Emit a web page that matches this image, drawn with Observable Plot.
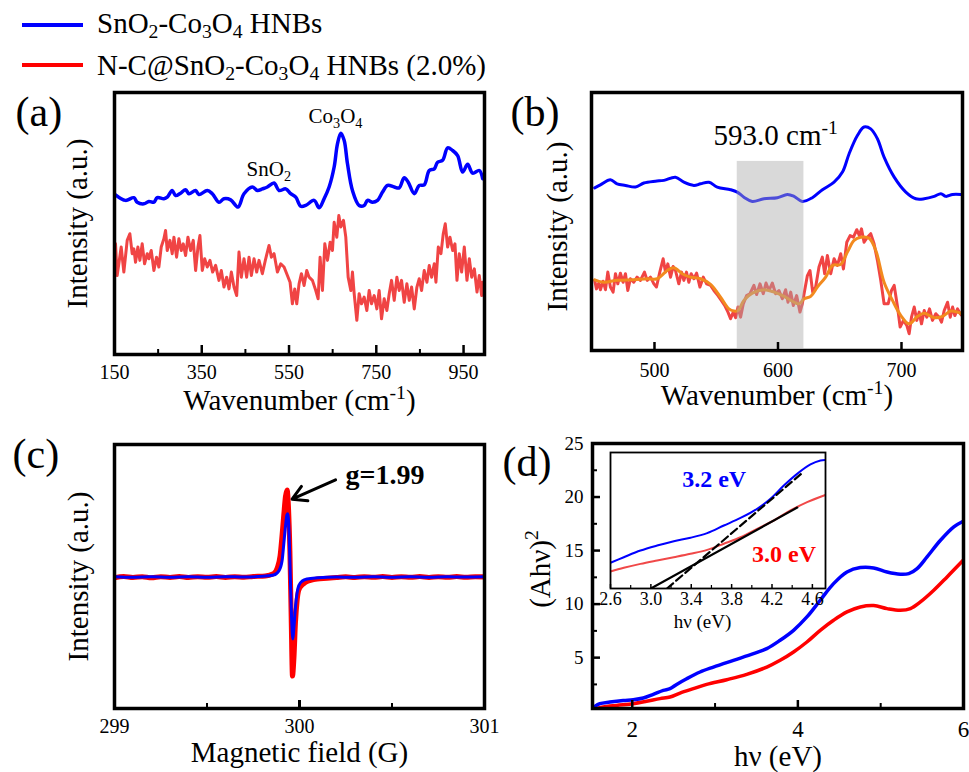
<!DOCTYPE html>
<html><head><meta charset="utf-8">
<script src="https://cdn.jsdelivr.net/npm/d3@7"></script>
<script src="https://cdn.jsdelivr.net/npm/@observablehq/plot@0.6"></script>
<style>
html,body{margin:0;padding:0;background:#fff;}
#root{position:relative;width:969px;height:772px;overflow:hidden;font-family:"Liberation Serif","Times New Roman",serif;}
.panel{position:absolute;}
.panel svg{display:block;}
.leg{position:absolute;font-size:29px;line-height:29px;white-space:nowrap;color:#000;}
.leg sub{font-size:0.68em;vertical-align:-0.25em;line-height:0;}
.sw{position:absolute;height:4px;width:61px;left:22px;}
</style></head><body><div id="root"></div>
<script>
// ---------------- DATA ----------------
const seriesNames = ["SnO_{2}-Co_{3}O_{4} HNBs", "N-C@SnO_{2}-Co_{3}O_{4} HNBs (2.0%)"];
const seriesColors = ["#0000ff", "#ff0000"];

// (a) Raman, wavenumber (cm-1) vs intensity (a.u.)
const ramanA_blue = [[152.3,60.9],[175.2,58.8],[194.4,59.8],[202.0,58.1],[217.3,57.5],[228.8,58.4],[240.3,58.1],[247.9,59.8],[263.2,59.4],[270.9,60.0],[282.3,62.5],[290.0,60.6],[301.5,61.5],[312.9,62.8],[320.6,61.3],[335.9,62.5],[343.5,61.0],[362.7,62.5],[374.1,61.3],[389.4,58.1],[400.9,59.4],[416.2,59.0],[433.1,56.3],[446.8,61.3],[465.9,63.8],[477.4,62.5],[488.9,63.1],[500.4,63.8],[515.7,65.3],[527.1,62.5],[542.4,63.1],[553.9,61.3],[565.4,60.0],[576.9,56.6],[588.3,56.9],[607.5,58.8],[619.0,56.0],[630.4,59.4],[641.9,63.8],[653.4,71.3],[661.0,80.0],[668.7,84.0],[676.3,81.3],[684.0,72.5],[695.4,62.5],[710.7,56.9],[722.2,56.9],[729.9,58.8],[741.3,58.1],[752.8,58.8],[764.3,61.9],[775.8,64.4],[791.1,63.8],[802.5,63.5],[814.0,67.3],[823.2,65.6],[837.0,61.3],[848.4,64.4],[859.9,64.6],[871.4,70.0],[882.9,70.6],[890.5,73.1],[902.0,73.8],[913.5,78.5],[925.0,77.5],[936.4,75.6],[947.9,69.4],[959.4,72.3],[970.8,69.0],[986.1,70.0],[993.8,66.9]];
const ramanA_red = [[152.3,42.5],[156.1,30.6],[165.3,41.3],[171.4,31.9],[179.1,43.8],[185.2,46.3],[190.5,38.8],[194.4,40.6],[198.2,35.6],[203.6,41.3],[208.1,36.3],[213.5,42.5],[218.9,35.0],[225.0,38.8],[228.8,36.9],[234.2,40.0],[240.3,32.5],[246.4,37.5],[251.7,33.8],[257.1,41.3],[263.2,44.4],[267.0,47.5],[270.9,40.0],[277.0,43.8],[282.3,38.8],[286.2,45.0],[292.3,37.5],[297.6,44.4],[303.0,40.0],[307.6,42.5],[312.9,38.1],[318.3,45.0],[324.4,40.0],[330.5,43.8],[335.9,32.5],[341.3,41.3],[345.8,45.6],[351.2,32.5],[356.6,36.9],[362.7,33.8],[368.8,36.3],[374.9,31.9],[381.8,34.4],[389.4,28.8],[394.8,32.5],[400.9,26.3],[407.0,30.0],[412.4,25.6],[417.8,31.9],[423.9,26.3],[430.0,23.1],[435.3,39.4],[440.7,30.0],[446.8,36.9],[452.9,30.0],[458.3,37.5],[463.7,30.6],[469.8,36.9],[475.9,31.9],[481.2,36.3],[488.9,31.3],[496.5,36.9],[504.2,41.9],[509.6,37.5],[515.7,38.8],[523.3,31.9],[531.0,35.0],[538.6,33.8],[546.3,30.6],[552.4,28.1],[557.7,20.0],[563.1,25.6],[567.7,20.0],[573.0,27.5],[578.4,31.3],[584.5,26.9],[590.6,32.5],[596.0,30.0],[603.6,28.8],[611.3,25.0],[616.7,21.9],[621.2,37.5],[626.6,25.0],[632.0,42.5],[638.1,36.3],[644.2,43.1],[649.5,40.0],[653.4,50.6],[659.5,45.0],[664.1,53.1],[668.7,48.8],[674.8,51.3],[680.1,45.0],[685.5,30.0],[691.6,25.0],[695.4,31.9],[699.3,23.8],[705.4,13.8],[710.7,23.8],[716.1,20.0],[722.2,22.5],[728.3,17.5],[733.7,25.0],[739.1,20.0],[745.2,23.1],[751.3,18.1],[756.6,25.0],[762.0,14.4],[768.1,21.9],[774.2,17.5],[779.6,23.8],[785.0,28.8],[791.1,21.3],[797.2,30.0],[802.5,25.0],[807.9,28.8],[814.0,20.6],[820.1,27.5],[825.5,21.3],[830.9,26.3],[837.0,18.1],[843.1,26.3],[848.4,29.4],[853.8,25.0],[859.9,32.5],[866.0,28.1],[871.4,34.4],[876.8,30.0],[882.9,35.0],[886.7,28.1],[892.1,41.3],[898.2,38.8],[903.5,46.3],[908.1,50.0],[913.5,41.3],[918.8,45.0],[925.0,40.0],[930.3,42.5],[934.9,28.8],[940.2,38.8],[945.6,31.9],[951.7,41.3],[957.8,28.8],[963.2,36.9],[968.6,30.0],[974.7,33.1],[980.8,24.4],[986.1,30.6],[991.5,23.1],[993.8,28.1]];
const ticksA_major = [150, 350, 550, 750, 950];
const ticksA_minor = [250, 450, 650, 850];
const annotA = [{x: 452.6, y: 68.1, t: "SnO_{2}"}, {x: 594.7, y: 88.0, t: "Co_{3}O_{4}"}];

// (b) Raman zoom
const ramanB_blue = [[451.6,63.5],[456.2,64.6],[464.3,66.5],[469.7,65.0],[476.5,64.4],[484.6,63.8],[491.4,65.3],[500.8,66.0],[507.6,66.3],[517.0,67.5],[523.8,65.6],[531.9,64.4],[537.3,65.0],[544.1,65.6],[550.8,63.8],[561.6,62.8],[567.0,61.9],[572.4,60.0],[579.2,58.4],[588.6,59.4],[599.5,59.8],[607.6,61.0],[613.0,60.3],[619.7,58.4],[627.8,59.8],[636.0,62.8],[645.4,65.6],[652.2,69.4],[657.6,76.3],[664.3,83.1],[669.7,86.3],[675.1,85.6],[680.5,81.9],[685.9,75.0],[694.1,67.5],[703.5,61.9],[711.6,59.4],[718.4,59.4],[726.5,60.3],[731.9,61.3],[735.9,60.3],[741.4,61.0],[748.1,61.0]];
const ramanB_red = [[451.6,28.8],[453.0,25.6],[454.9,27.8],[456.2,25.3],[458.4,28.5],[460.3,25.3],[462.2,31.9],[464.3,26.3],[466.5,24.4],[468.4,31.3],[470.3,27.5],[472.4,31.5],[474.6,28.1],[476.5,31.3],[478.4,25.0],[480.5,29.4],[483.2,28.1],[485.9,30.0],[488.6,28.8],[491.9,31.9],[494.1,28.8],[496.8,30.0],[499.5,27.5],[501.6,26.3],[504.3,31.9],[507.0,36.9],[508.9,31.9],[510.8,35.0],[513.0,30.0],[515.1,34.0],[517.0,32.5],[519.7,27.5],[521.9,31.9],[523.8,28.8],[525.9,31.9],[527.8,28.1],[529.7,31.3],[531.9,29.4],[534.1,31.5],[536.8,26.3],[539.5,30.0],[542.2,27.5],[545.4,26.9],[548.1,25.0],[551.4,23.1],[554.1,21.3],[556.8,19.4],[559.5,16.9],[561.6,14.4],[563.8,16.9],[565.7,14.8],[567.6,18.8],[569.7,15.0],[571.9,20.0],[574.6,23.1],[577.3,23.8],[580.5,26.9],[582.7,23.5],[585.4,27.5],[588.1,23.8],[590.3,27.8],[592.7,25.0],[595.4,27.8],[598.1,23.8],[600.8,25.0],[603.5,21.9],[606.2,25.3],[608.1,20.6],[610.3,24.4],[612.4,19.4],[615.1,23.1],[617.8,16.9],[619.7,20.0],[621.6,25.0],[623.8,30.6],[625.9,32.5],[628.1,24.4],[630.5,26.3],[633.2,33.8],[635.9,37.5],[637.8,31.3],[640.0,38.1],[642.7,31.3],[645.4,36.9],[648.1,34.4],[650.8,38.8],[653.0,33.1],[655.7,43.1],[658.4,45.6],[661.1,45.0],[663.8,47.8],[665.9,45.6],[667.6,48.1],[669.7,43.1],[672.4,45.0],[675.1,46.3],[677.8,42.5],[680.5,36.3],[683.2,28.8],[685.9,20.0],[689.2,20.0],[691.9,25.0],[694.1,26.9],[696.8,18.8],[698.9,11.3],[701.6,13.8],[704.3,11.9],[706.2,8.8],[708.1,15.0],[710.3,18.8],[712.4,13.8],[714.3,16.9],[716.2,12.5],[718.4,17.5],[720.5,15.0],[722.7,18.1],[725.1,13.8],[727.8,16.3],[730.5,15.0],[732.4,13.1],[734.6,17.5],[737.3,20.6],[739.5,15.0],[741.4,18.8],[743.2,15.6],[745.4,18.1],[747.6,16.3],[748.9,15.6]];
const ramanB_smooth = [[451.6,29.0],[458.9,28.1],[469.7,28.8],[483.2,29.0],[494.1,29.4],[502.2,29.4],[510.3,32.5],[515.7,33.5],[522.4,31.3],[529.2,30.0],[537.3,29.4],[545.4,27.3],[553.5,22.5],[560.3,18.1],[564.3,17.3],[567.6,17.5],[572.4,21.3],[579.2,24.0],[588.6,25.3],[596.8,24.4],[604.9,22.8],[611.6,21.0],[617.0,20.0],[621.1,21.9],[626.5,22.8],[631.9,26.3],[638.6,30.0],[644.1,34.4],[650.8,34.8],[656.2,39.4],[661.6,43.8],[667.0,45.0],[673.8,44.6],[679.2,40.0],[685.9,28.1],[692.7,21.3],[699.5,15.6],[706.2,12.5],[713.0,15.3],[718.4,16.5],[726.5,14.8],[733.2,15.3],[740.0,17.3],[748.9,16.3]];
const bandB = [{x1: 567, x2: 621, y1: 3.2, y2: 73.4}];
const annotB = [{x: 547.8, y: 79.4, t: "593.0 cm^{-1}"}];
const ticksB_major = [500, 600, 700];

// (c) EPR, magnetic field (G) vs intensity
const eprRed = [[299.00,-0.005],[299.05,0.004],[299.10,-0.004],[299.15,0.003],[299.20,-0.006],[299.25,0.002],[299.30,-0.003],[299.35,0.004],[299.40,-0.004],[299.45,0.003],[299.50,-0.002],[299.55,0.004],[299.60,-0.003],[299.65,0.002],[299.70,-0.002],[299.75,0.004],[299.80,0.006],[299.83,0.012],[299.86,0.025],[299.88,0.07],[299.895,0.16],[299.906,0.32],[299.915,0.47],[299.924,0.61],[299.933,0.66],[299.940,0.54],[299.948,0.20],[299.955,-0.30],[299.962,-0.75],[299.970,-0.61],[299.978,-0.35],[299.987,-0.18],[299.996,-0.10],[300.015,-0.06],[300.032,-0.04],[300.06,-0.025],[300.096,-0.015],[300.15,-0.010],[300.20,-0.004],[300.25,0.002],[300.30,-0.004],[300.35,0.003],[300.40,-0.002],[300.45,0.004],[300.50,-0.003],[300.55,0.003],[300.60,-0.002],[300.65,0.004],[300.70,-0.003],[300.75,0.003],[300.80,-0.002],[300.85,0.004],[300.90,-0.002],[300.95,0.003],[301.00,0.001]];
const eprBlue = [[299.00,0.002],[299.10,-0.002],[299.20,0.002],[299.30,-0.002],[299.40,0.002],[299.50,-0.001],[299.60,0.002],[299.70,0.001],[299.80,0.005],[299.86,0.015],[299.89,0.05],[299.906,0.125],[299.915,0.25],[299.924,0.38],[299.932,0.47],[299.937,0.48],[299.943,0.35],[299.948,0.125],[299.952,-0.08],[299.957,-0.30],[299.964,-0.47],[299.970,-0.38],[299.978,-0.23],[299.987,-0.12],[299.996,-0.065],[300.015,-0.03],[300.041,-0.015],[300.10,-0.006],[300.20,0.000],[300.30,-0.002],[300.40,0.002],[300.50,-0.001],[300.60,0.002],[300.70,-0.001],[300.80,0.002],[300.90,0.000],[301.00,0.002]];
const arrowC = [{x1: 300.195, y1: 0.736, x2: 299.96, y2: 0.59}];
const annotC = [{x: 300.249, y: 0.706, t: "g=1.99"}];
const ticksC_major = [299, 300, 301];
const ticksC_minor = [299.5, 300.5];

// (d) Tauc plot, hv (eV) vs (Ahv)^2
const taucBlue = [[1.548,0.45],[1.609,0.70],[1.730,0.85],[1.891,1.00],[2.012,1.07],[2.133,1.23],[2.254,1.57],[2.375,1.94],[2.456,2.10],[2.536,2.50],[2.657,3.03],[2.819,3.66],[2.980,4.12],[3.222,4.75],[3.464,5.37],[3.625,5.84],[3.786,6.62],[3.948,7.55],[4.109,8.80],[4.270,10.36],[4.431,11.91],[4.593,13.00],[4.754,13.41],[4.915,13.38],[5.077,13.00],[5.238,12.79],[5.339,12.85],[5.440,13.32],[5.560,14.41],[5.722,15.96],[5.883,17.21],[5.996,17.74]];
const taucRed = [[1.548,0.20],[1.649,0.39],[1.810,0.54],[2.012,0.70],[2.173,0.92],[2.335,1.17],[2.456,1.32],[2.577,1.69],[2.738,2.10],[2.899,2.50],[3.141,2.94],[3.383,3.44],[3.625,4.12],[3.786,4.75],[3.948,5.53],[4.109,6.46],[4.270,7.55],[4.431,8.49],[4.593,9.27],[4.754,9.73],[4.915,9.86],[5.077,9.58],[5.238,9.42],[5.359,9.58],[5.480,10.20],[5.641,11.29],[5.802,12.54],[5.996,14.09]];
const ticksD_x = [2, 4, 6];
const ticksD_xminor = [3, 5];
const ticksD_y = [5, 10, 15, 20, 25];
const ticksD_yminor = [2.5, 7.5, 12.5, 17.5, 22.5];

// (d) inset, hv (eV) vs (Ahv)^2 (a.u.)
const insetBlue = [[2.600,1.89],[2.732,2.30],[2.897,2.79],[3.062,3.16],[3.227,3.48],[3.392,3.73],[3.558,4.07],[3.723,4.63],[3.888,5.19],[4.053,5.86],[4.185,6.60],[4.317,7.57],[4.449,8.43],[4.581,9.12],[4.680,9.41],[4.740,9.46]];
const insetRed = [[2.600,1.25],[2.732,1.52],[2.897,1.81],[3.062,2.06],[3.227,2.30],[3.392,2.55],[3.558,2.84],[3.723,3.29],[3.888,3.77],[4.053,4.39],[4.218,5.00],[4.383,5.74],[4.548,6.35],[4.740,6.91]];
const fitRed = [[3.00, 0.0], [4.45, 5.95]];
const fitBlue = [[3.16, 0.0], [4.50, 8.50]];
const annotInset = [{x: 3.31, y: 7.45, t: "3.2 eV", c: "#0000ff"}, {x: 4.003, y: 1.93, t: "3.0 eV", c: "#ff0000"}];
const ticksIn = [2.6, 3.0, 3.4, 3.8, 4.2, 4.6];
const ticksIn_minor = [2.8, 3.2, 3.6, 4.0, 4.4];

// ---------------- HELPERS ----------------
const FONT = "'Liberation Serif','Times New Roman',serif";
const BLUE = "#0000ff", RED = "#ff0000", RED_L = "#f04444", ORANGE = "#f28a1e";
const pts = a => a.map(([x, y]) => ({x, y}));
const root = document.getElementById("root");

function mk(o) {
  return Plot.plot(Object.assign({
    style: {fontFamily: FONT, fontSize: "20px", overflow: "visible", background: "transparent", color: "#000"}
  }, o));
}
function richify(svg) {
  const ns = "http://www.w3.org/2000/svg";
  svg.querySelectorAll("text").forEach(t => {
    const s = t.textContent;
    if (!/[_^]\{/.test(s)) return;
    const fs = parseFloat(getComputedStyle(t).fontSize) || 20;
    t.textContent = "";
    const re = /([_^])\{([^}]*)\}|([^_^]+)/g;
    let cur = 0, m;
    while ((m = re.exec(s))) {
      const sp = document.createElementNS(ns, "tspan");
      let target = 0;
      if (m[1] === "_") { target = 0.25 * fs; sp.setAttribute("font-size", 0.68 * fs); sp.textContent = m[2]; }
      else if (m[1] === "^") { target = -0.4 * fs; sp.setAttribute("font-size", 0.68 * fs); sp.textContent = m[2]; }
      else sp.textContent = m[3];
      if (target !== cur) sp.setAttribute("dy", target - cur);
      cur = target;
      t.appendChild(sp);
    }
  });
}
function place(el, left, top) {
  const d = document.createElement("div");
  d.className = "panel";
  d.style.left = left + "px"; d.style.top = top + "px";
  d.appendChild(el);
  root.appendChild(d);
  richify(el);
}
const tx = (vals, len, h, sw) => Plot.tickX(vals, {x: d => d, insetTop: h - len, stroke: "#000", strokeWidth: sw});
const ty = (vals, len, w, sw) => Plot.tickY(vals, {y: d => d, insetRight: w - len, stroke: "#000", strokeWidth: sw});
const label = (s, o) => Plot.text([s], Object.assign({text: d => d, fontSize: 29, lineAnchor: "middle", textAnchor: "middle"}, o));

// ---------------- LEGEND ----------------
seriesNames.forEach((name, i) => {
  const sw = document.createElement("div");
  sw.className = "sw"; sw.style.top = (23 + 40 * i) + "px"; sw.style.background = seriesColors[i];
  root.appendChild(sw);
  const t = document.createElement("div");
  t.className = "leg"; t.style.left = "97px"; t.style.top = (8.7 + 42 * i) + "px";
  t.innerHTML = name.replace(/_\{([^}]*)\}/g, "<sub>$1</sub>");
  root.appendChild(t);
});

// ---------------- PANEL A ----------------
const hA = 340 - 12 - 66;
place(mk({
  width: 490, height: 340, marginLeft: 114, marginRight: 6, marginTop: 12, marginBottom: 66,
  x: {domain: [150, 998]}, y: {domain: [1.0, 99.25], axis: null},
  marks: [
    Plot.line(pts(ramanA_red), {x: "x", y: "y", stroke: RED_L, strokeWidth: 3, clip: true}),
    Plot.line(pts(ramanA_blue), {x: "x", y: "y", stroke: BLUE, strokeWidth: 3.5, curve: "catmull-rom", clip: true}),
    Plot.text(annotA, {x: "x", y: "y", text: "t", textAnchor: "start", lineAnchor: "bottom", fontSize: 21}),
    tx(ticksA_major, 9, hA, 2.5), tx(ticksA_minor, 5, hA, 2),
    Plot.axisX({ticks: ticksA_major, tickSize: 0, tickPadding: 10, fontSize: 20, label: null, tickFormat: d => String(d)}),
    Plot.frame({stroke: "#000", strokeWidth: 3.5}),
    label("Wavenumber (cm^{-1})", {frameAnchor: "bottom", dy: 46.7}),
    label("Intensity (a.u.)", {frameAnchor: "left", rotate: -90, dx: -36.3}),
    Plot.text(["(a)"], {text: d => d, frameAnchor: "top-left", dx: -99, dy: 33, textAnchor: "start", lineAnchor: "bottom", fontSize: 42})
  ]
}), 0, 80);

// ---------------- PANEL B ----------------
const hB = 340 - 12 - 70;
place(mk({
  width: 479, height: 340, marginLeft: 101, marginRight: 7, marginTop: 12, marginBottom: 70,
  x: {domain: [449, 749.4]}, y: {domain: [2.5, 99.25], axis: null},
  marks: [
    Plot.line(pts(ramanB_blue), {x: "x", y: "y", stroke: BLUE, strokeWidth: 3, curve: "catmull-rom", clip: true}),
    Plot.line(pts(ramanB_red), {x: "x", y: "y", stroke: RED_L, strokeWidth: 3, clip: true}),
    Plot.line(pts(ramanB_smooth), {x: "x", y: "y", stroke: ORANGE, strokeWidth: 3, curve: "catmull-rom", clip: true}),
    Plot.rect(bandB, {x1: "x1", x2: "x2", y1: "y1", y2: "y2", fill: "#aaaaaa", fillOpacity: 0.45}),
    Plot.text(annotB, {x: "x", y: "y", text: "t", textAnchor: "start", lineAnchor: "bottom", fontSize: 29}),
    tx(ticksB_major, 8, hB, 2.5),
    Plot.axisX({ticks: ticksB_major, tickSize: 0, tickPadding: 12, fontSize: 20, label: null, tickFormat: d => String(d)}),
    Plot.frame({stroke: "#000", strokeWidth: 3.5}),
    label("Wavenumber (cm^{-1})", {frameAnchor: "bottom", dy: 45.7}),
    label("Intensity (a.u.)", {frameAnchor: "left", rotate: -90, dx: -33.6, dy: 5}),
    Plot.text(["(b)"], {text: d => d, frameAnchor: "top-left", dx: -81, dy: 33, textAnchor: "start", lineAnchor: "bottom", fontSize: 42})
  ]
}), 490, 80);

// ---------------- PANEL C ----------------
const hC = 352 - 24 - 64;
place(mk({
  width: 490, height: 352, marginLeft: 114, marginRight: 6, marginTop: 24, marginBottom: 64,
  x: {domain: [299, 301]}, y: {domain: [-0.996, 1.004], axis: null},
  marks: [
    Plot.line(pts(eprRed), {x: "x", y: "y", stroke: RED, strokeWidth: 5, curve: "monotone-x", clip: true}),
    Plot.line(pts(eprBlue), {x: "x", y: "y", stroke: BLUE, strokeWidth: 3, curve: "monotone-x", clip: true}),
    Plot.arrow(arrowC, {x1: "x1", y1: "y1", x2: "x2", y2: "y2", stroke: "#000", strokeWidth: 3, headLength: 14}),
    Plot.text(annotC, {x: "x", y: "y", text: "t", textAnchor: "start", lineAnchor: "bottom", fontSize: 28, fontWeight: "bold"}),
    tx(ticksC_major, 8, hC, 3), tx(ticksC_minor, 5, hC, 2),
    Plot.axisX({ticks: ticksC_major, tickSize: 0, tickPadding: 10, fontSize: 20, label: null, tickFormat: d => String(d)}),
    Plot.frame({stroke: "#000", strokeWidth: 3.5}),
    label("Magnetic field (G)", {frameAnchor: "bottom", dy: 44.7}),
    label("Intensity (a.u.)", {frameAnchor: "left", rotate: -90, dx: -35.3}),
    Plot.text(["(c)"], {text: d => d, frameAnchor: "top-left", dx: -102, dy: 23, textAnchor: "start", lineAnchor: "bottom", fontSize: 42})
  ]
}), 0, 420);

// ---------------- PANEL D ----------------
const hD = 352 - 23 - 64, wD = 479 - 102 - 6;
place(mk({
  width: 479, height: 352, marginLeft: 102, marginRight: 6, marginTop: 23, marginBottom: 64,
  x: {domain: [1.52, 6.0]}, y: {domain: [0.25, 25]},
  marks: [
    Plot.line(pts(taucRed), {x: "x", y: "y", stroke: RED, strokeWidth: 3.5, curve: "catmull-rom", clip: true}),
    Plot.line(pts(taucBlue), {x: "x", y: "y", stroke: BLUE, strokeWidth: 3.5, curve: "catmull-rom", clip: true}),
    tx(ticksD_x, 8, hD, 2.5), tx(ticksD_xminor, 5, hD, 2),
    ty(ticksD_y, 8, wD, 2.5), ty(ticksD_yminor, 5, wD, 2),
    Plot.axisX({ticks: ticksD_x, tickSize: 0, tickPadding: 12, fontSize: 23, label: null, tickFormat: d => String(d)}),
    Plot.axisY({ticks: ticksD_y, tickSize: 0, tickPadding: 9, fontSize: 19, label: null, tickFormat: d => String(d)}),
    Plot.frame({stroke: "#000", strokeWidth: 3.5}),
    label("hν (eV)", {frameAnchor: "bottom", dy: 48}),
    label("(Ahν)^{2}", {frameAnchor: "left", rotate: -90, dx: -52, dy: -7}),
    Plot.text(["(d)"], {text: d => d, frameAnchor: "top-left", dx: -90, dy: 32, textAnchor: "start", lineAnchor: "bottom", fontSize: 42})
  ]
}), 490, 420);

// ---------------- INSET ----------------
const hIn = 185 - 7 - 42;
place(mk({
  width: 250, height: 185, marginLeft: 25, marginRight: 10, marginTop: 7, marginBottom: 42,
  x: {domain: [2.6, 4.73]}, y: {domain: [0, 10], axis: null},
  marks: [
    Plot.frame({fill: "#fff", stroke: null}),
    Plot.line(pts(insetRed), {x: "x", y: "y", stroke: "#f04848", strokeWidth: 2, curve: "catmull-rom", clip: true}),
    Plot.line(pts(insetBlue), {x: "x", y: "y", stroke: BLUE, strokeWidth: 2, curve: "catmull-rom", clip: true}),
    Plot.line(pts(fitRed), {x: "x", y: "y", stroke: "#000", strokeWidth: 2.2, clip: true}),
    Plot.line(pts(fitBlue), {x: "x", y: "y", stroke: "#000", strokeWidth: 2.2, strokeDasharray: "8,4", clip: true}),
    Plot.text(annotInset, {x: "x", y: "y", text: "t", fill: "c", textAnchor: "start", lineAnchor: "bottom", fontSize: 24, fontWeight: "bold"}),
    tx(ticksIn, 4, hIn, 1.5), tx(ticksIn_minor, 3, hIn, 1.2),
    Plot.axisX({ticks: ticksIn, tickSize: 0, tickPadding: 4, fontSize: 18, label: null, tickFormat: d => d.toFixed(1)}),
    Plot.frame({stroke: "#000", strokeWidth: 1.8}),
    Plot.text(["hν (eV)"], {text: d => d, frameAnchor: "bottom", dx: -15.5, dy: 33, fontSize: 19, lineAnchor: "middle", textAnchor: "middle"})
  ]
}), 585, 445);
</script>
</body></html>
